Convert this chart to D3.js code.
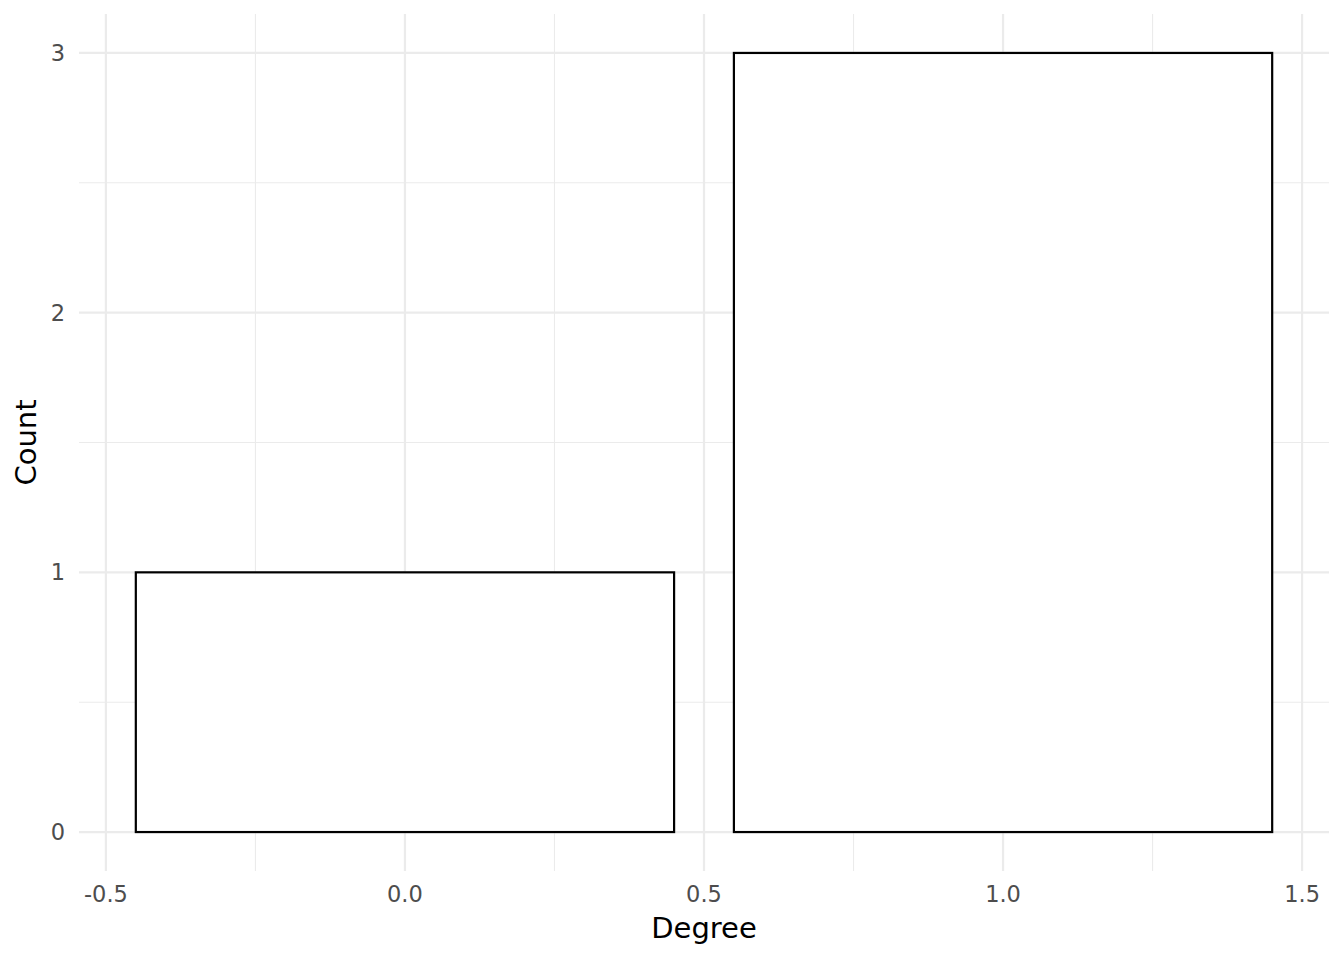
<!DOCTYPE html>
<html><head><meta charset="utf-8">
<script src="https://cdn.jsdelivr.net/npm/d3@7"></script>
<style>body{margin:0;background:#fff}svg{display:block;font-family:"DejaVu Sans",sans-serif}</style>
</head><body>
<svg id="c" width="1344" height="960"></svg>
<script>
const degrees = [0, 1];
const counts = [1, 3];
const xTicks = [-0.5, 0, 0.5, 1, 1.5];
const xTickLabels = ["-0.5", "0.0", "0.5", "1.0", "1.5"];
const xMinor = [-0.25, 0.25, 0.75, 1.25];
const yTicks = [0, 1, 2, 3];
const yMinor = [0.5, 1.5, 2.5];
const barWidth = 0.9;

const svg = d3.select("#c");
const L = 79, R = 1329, T = 14, B = 871;
const x = d3.scaleLinear().domain([-0.545, 1.545]).range([L, R]);
const y = d3.scaleLinear().domain([-0.15, 3.15]).range([B, T]);
const grid = "#EBEBEB";

svg.append("g").selectAll("line").data(xMinor).join("line")
  .attr("x1", d => x(d)).attr("x2", d => x(d)).attr("y1", T).attr("y2", B)
  .attr("stroke", grid).attr("stroke-width", 1.1);
svg.append("g").selectAll("line").data(yMinor).join("line")
  .attr("y1", d => y(d)).attr("y2", d => y(d)).attr("x1", L).attr("x2", R)
  .attr("stroke", grid).attr("stroke-width", 1.1);
svg.append("g").selectAll("line").data(xTicks).join("line")
  .attr("x1", d => x(d)).attr("x2", d => x(d)).attr("y1", T).attr("y2", B)
  .attr("stroke", grid).attr("stroke-width", 2.2);
svg.append("g").selectAll("line").data(yTicks).join("line")
  .attr("y1", d => y(d)).attr("y2", d => y(d)).attr("x1", L).attr("x2", R)
  .attr("stroke", grid).attr("stroke-width", 2.2);

svg.append("g").selectAll("rect").data(degrees).join("rect")
  .attr("x", d => x(d - barWidth / 2))
  .attr("width", d => x(d + barWidth / 2) - x(d - barWidth / 2))
  .attr("y", (d, i) => y(counts[i]))
  .attr("height", (d, i) => y(0) - y(counts[i]))
  .attr("fill", "#fff").attr("stroke", "#000").attr("stroke-width", 2.2);

svg.append("g").selectAll("text").data(xTicks).join("text")
  .attr("x", d => x(d)).attr("y", 902)
  .attr("text-anchor", "middle").attr("font-size", 22.5).attr("fill", "#4D4D4D")
  .text((d, i) => xTickLabels[i]);
svg.append("g").selectAll("text").data(yTicks).join("text")
  .attr("x", 65).attr("y", d => y(d) + 8)
  .attr("text-anchor", "end").attr("font-size", 22.5).attr("fill", "#4D4D4D")
  .text(d => d);

svg.append("text").attr("x", (L + R) / 2).attr("y", 938)
  .attr("text-anchor", "middle").attr("font-size", 29).attr("fill", "#000").text("Degree");
svg.append("text").attr("transform", `translate(36,${(T + B) / 2}) rotate(-90)`)
  .attr("text-anchor", "middle").attr("font-size", 29).attr("fill", "#000").text("Count");
</script>
</body></html>
